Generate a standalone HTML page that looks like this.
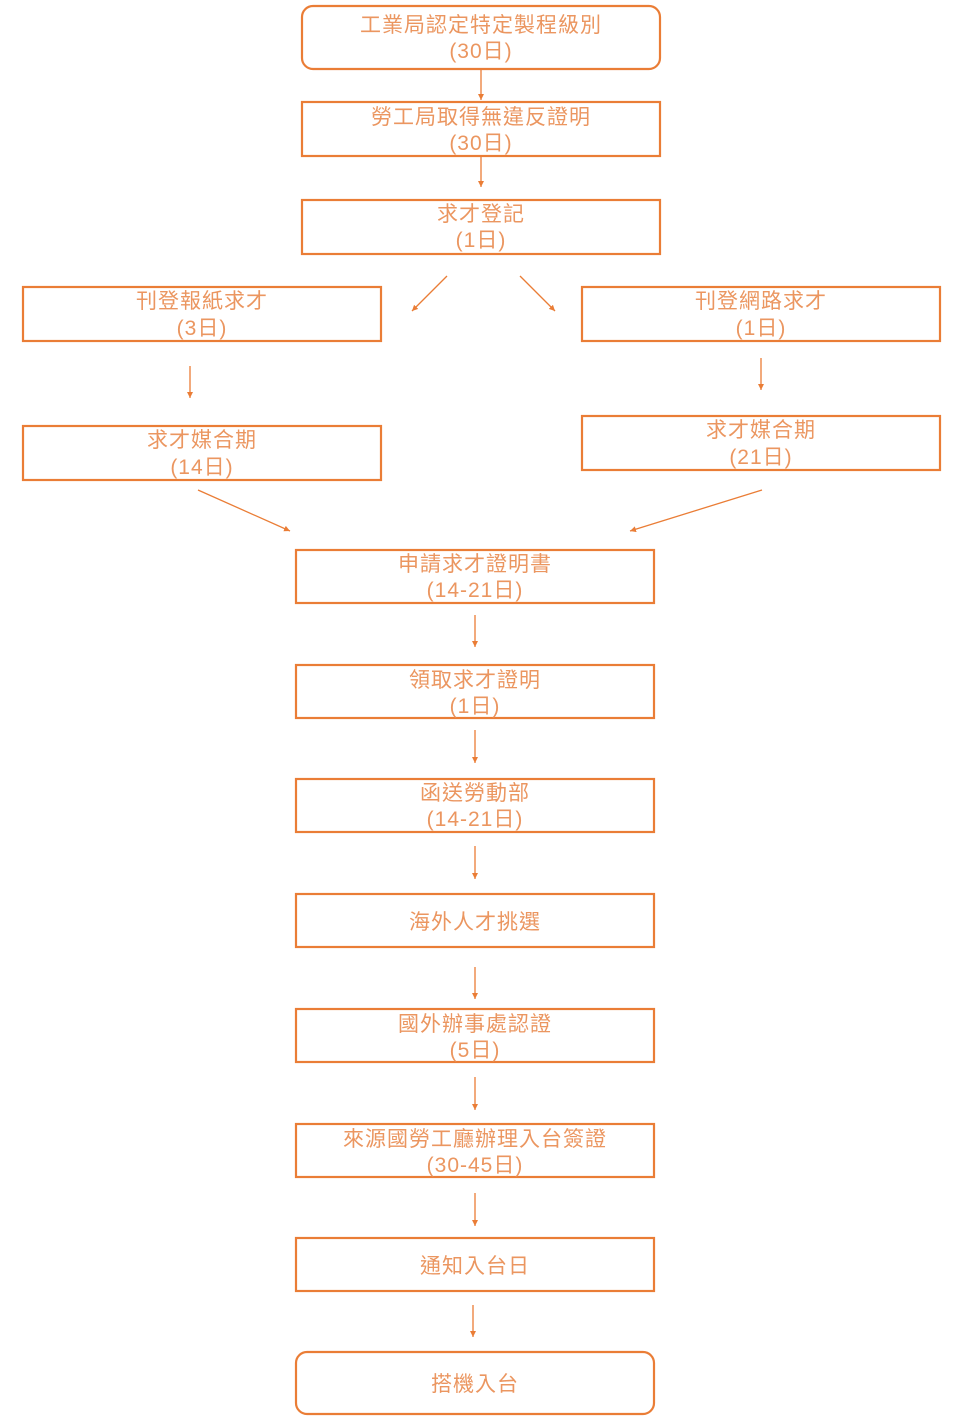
<!DOCTYPE html>
<html><head><meta charset="utf-8"><style>
html,body{margin:0;padding:0;background:#fff;}
svg{display:block;}
text{font-family:"Liberation Sans","Noto Sans CJK TC","Noto Sans CJK SC",sans-serif;font-size:21px;fill:#eb9660;text-anchor:middle;letter-spacing:1px;}
.b{fill:none;stroke:#ea7d36;stroke-width:2.2;}
.l{stroke:#ea7d36;stroke-width:1.3;fill:none;}
</style></head><body>
<svg width="957" height="1422" viewBox="0 0 957 1422" xmlns="http://www.w3.org/2000/svg">
<defs>
<marker id="a" markerWidth="8" markerHeight="8" refX="6" refY="3" orient="auto" markerUnits="userSpaceOnUse">
<path d="M0,0 L6,3 L0,6 z" fill="#ea7d36"/>
</marker>
</defs>
<!-- boxes -->
<rect class="b" x="302" y="6" width="358" height="63" rx="11"/>
<text x="481" y="32">工業局認定特定製程級別</text><text x="481" y="58">(30日)</text>

<rect class="b" x="302" y="102" width="358" height="54"/>
<text x="481" y="124">勞工局取得無違反證明</text><text x="481" y="150">(30日)</text>

<rect class="b" x="302" y="200" width="358" height="54"/>
<text x="481" y="221">求才登記</text><text x="481" y="247">(1日)</text>

<rect class="b" x="23" y="287" width="358" height="54"/>
<text x="202" y="308">刊登報紙求才</text><text x="202" y="335">(3日)</text>

<rect class="b" x="582" y="287" width="358" height="54"/>
<text x="761" y="308">刊登網路求才</text><text x="761" y="335">(1日)</text>

<rect class="b" x="23" y="426" width="358" height="54"/>
<text x="202" y="447">求才媒合期</text><text x="202" y="474">(14日)</text>

<rect class="b" x="582" y="416" width="358" height="54"/>
<text x="761" y="437">求才媒合期</text><text x="761" y="464">(21日)</text>

<rect class="b" x="296" y="550" width="358" height="53"/>
<text x="475" y="571">申請求才證明書</text><text x="475" y="597">(14-21日)</text>

<rect class="b" x="296" y="665" width="358" height="53"/>
<text x="475" y="687">領取求才證明</text><text x="475" y="713">(1日)</text>

<rect class="b" x="296" y="779" width="358" height="53"/>
<text x="475" y="800">函送勞動部</text><text x="475" y="826">(14-21日)</text>

<rect class="b" x="296" y="894" width="358" height="53"/>
<text x="475" y="929">海外人才挑選</text>

<rect class="b" x="296" y="1009" width="358" height="53"/>
<text x="475" y="1031">國外辦事處認證</text><text x="475" y="1057">(5日)</text>

<rect class="b" x="296" y="1124" width="358" height="53"/>
<text x="475" y="1146">來源國勞工廳辦理入台簽證</text><text x="475" y="1172">(30-45日)</text>

<rect class="b" x="296" y="1238" width="358" height="53"/>
<text x="475" y="1273">通知入台日</text>

<rect class="b" x="296" y="1352" width="358" height="62" rx="11"/>
<text x="475" y="1391">搭機入台</text>

<!-- connectors -->
<line class="l" x1="481" y1="69" x2="481" y2="100" marker-end="url(#a)"/>
<line class="l" x1="481" y1="156" x2="481" y2="187" marker-end="url(#a)"/>
<line class="l" x1="447" y1="276" x2="412" y2="311" marker-end="url(#a)"/>
<line class="l" x1="520" y1="276" x2="555" y2="311" marker-end="url(#a)"/>
<line class="l" x1="190" y1="366" x2="190" y2="398" marker-end="url(#a)"/>
<line class="l" x1="761" y1="358" x2="761" y2="390" marker-end="url(#a)"/>
<line class="l" x1="198" y1="490" x2="290" y2="531" marker-end="url(#a)"/>
<line class="l" x1="762" y1="490" x2="630" y2="531" marker-end="url(#a)"/>
<line class="l" x1="475" y1="615" x2="475" y2="647" marker-end="url(#a)"/>
<line class="l" x1="475" y1="730" x2="475" y2="763" marker-end="url(#a)"/>
<line class="l" x1="475" y1="846" x2="475" y2="879" marker-end="url(#a)"/>
<line class="l" x1="475" y1="967" x2="475" y2="999" marker-end="url(#a)"/>
<line class="l" x1="475" y1="1077" x2="475" y2="1110" marker-end="url(#a)"/>
<line class="l" x1="475" y1="1193" x2="475" y2="1226" marker-end="url(#a)"/>
<line class="l" x1="473" y1="1305" x2="473" y2="1337" marker-end="url(#a)"/>
</svg>
</body></html>
